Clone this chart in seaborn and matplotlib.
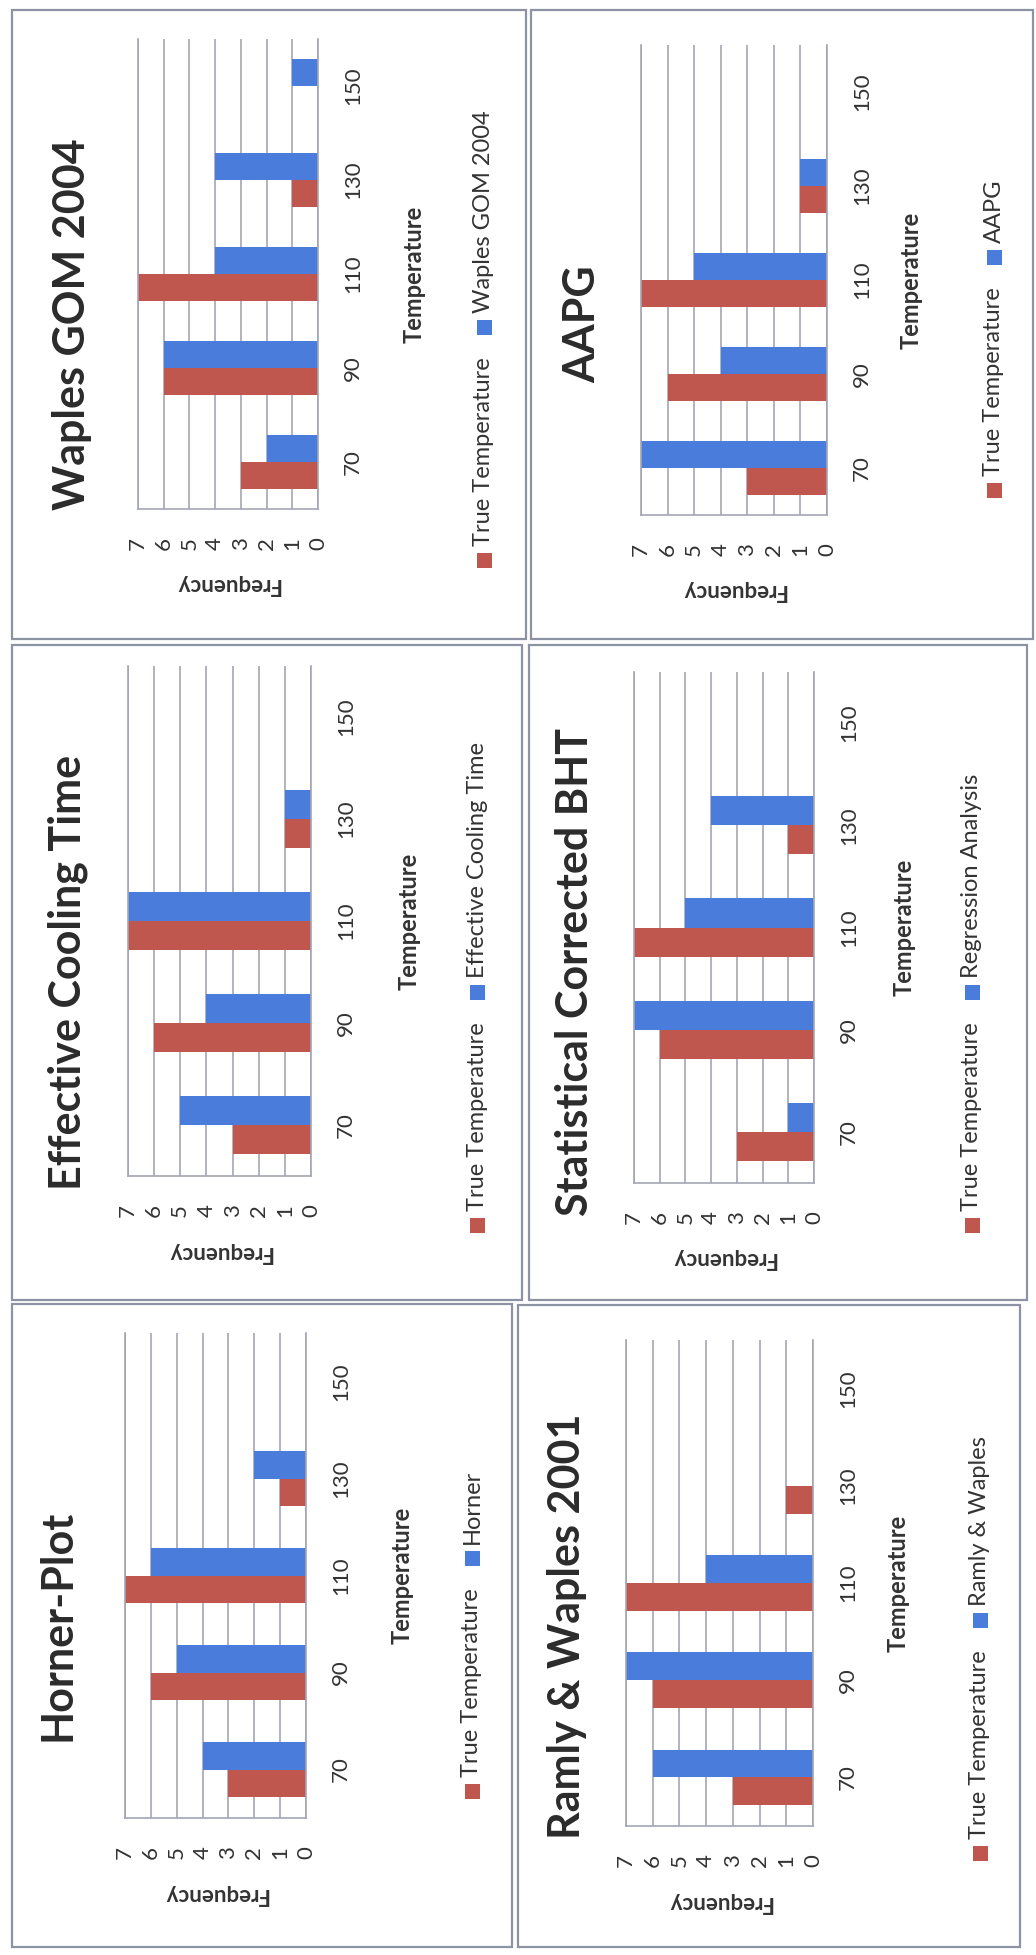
import matplotlib
matplotlib.use("Agg")
import matplotlib.pyplot as plt
from matplotlib.patches import Rectangle
import pandas as pd
import seaborn as sns

# Page of six histograms, scanned sideways (rotated 90 deg counter-clockwise)
W, H = 1036, 1955

temperatures = [70, 90, 110, 130, 150]
freq_ticks = [0, 1, 2, 3, 4, 5, 6, 7]
true_temperature = [3, 6, 7, 1, 0]
waples_gom = [2, 6, 4, 4, 1]
effective_cooling = [5, 4, 7, 1, 0]
horner = [4, 5, 6, 2, 0]
aapg = [7, 4, 5, 1, 0]
regression = [1, 7, 5, 4, 0]
ramly_waples = [6, 7, 4, 0, 0]

titles = ["Waples GOM 2004", "Effective Cooling Time", "Horner-Plot",
          "AAPG", "Statistical Corrected BHT", "Ramly & Waples 2001"]
methods = ["Waples GOM 2004", "Effective Cooling Time", "Horner",
           "AAPG", "Regression Analysis", "Ramly & Waples"]
method_values = [waples_gom, effective_cooling, horner, aapg, regression, ramly_waples]

RED = "#C0574F"
BLUE = "#4A7DDB"
GRID = "#A3A5B3"
BORDER = "#8E93A3"
TEXT = "#333333"

# layout in pixels (x0, y0, x1, y1), y measured from the top
boxes = [(12, 10, 526, 639), (12, 645, 522, 1300), (12, 1304, 512, 1947),
         (531, 10, 1033, 639), (529, 645, 1027, 1300), (518, 1305, 1020, 1947)]
plots = [(138, 39, 318, 509), (128, 666, 311, 1176), (125, 1333, 306, 1818),
         (641, 45, 827, 515), (634, 672, 814, 1183), (626, 1340, 813, 1826)]
title_x = [72, 68, 58, 582, 575, 567]
legend_x = [484, 477, 472, 994, 972, 980]
legend_y = [560, 1225, 1791, 490, 1225, 1853]
temp_label_dx = [96, 98, 96, 84, 90, 85]

sns.set_style("white")
plt.rcParams["font.family"] = ["Lato", "DejaVu Sans"]
plt.rcParams["text.color"] = TEXT

fig = plt.figure(figsize=(W / 100, H / 100), dpi=100)
overlay = fig.add_axes([0, 0, 1, 1], zorder=0)
overlay.set_xlim(0, W)
overlay.set_ylim(H, 0)
overlay.axis("off")
renderer = fig.canvas.get_renderer()

for i in range(6):
    bx0, by0, bx1, by1 = boxes[i]
    overlay.add_patch(Rectangle((bx0, by0), bx1 - bx0, by1 - by0, fill=False,
                                edgecolor=BORDER, lw=1.6))
    overlay.text(title_x[i], (by0 + by1) / 2, titles[i], rotation=90, ha="center",
                 va="center", fontsize=31, fontweight="bold", color="#2b2b2b")

    px0, py0, px1, py1 = plots[i]
    w, h = px1 - px0, py1 - py0
    ax = fig.add_axes([px0 / W, 1 - py1 / H, w / W, h / H], zorder=1)
    ax.set_facecolor("none")

    df = pd.DataFrame({
        "Temperature": [str(t) for t in temperatures] * 2,
        "Frequency": true_temperature + method_values[i],
        "Series": ["True Temperature"] * 5 + [methods[i]] * 5,
    })
    sns.barplot(data=df, x="Frequency", y="Temperature", hue="Series",
                order=[str(t) for t in temperatures],
                hue_order=["True Temperature", methods[i]],
                palette=[RED, BLUE], orient="h", width=0.57, gap=0,
                saturation=1, linewidth=0, errorbar=None, legend=False, ax=ax)

    ax.set_axisbelow(True)
    ax.set_xlim(7, 0)
    ax.set_ylim(-0.5, 4.5)
    ax.set_xticks(freq_ticks)
    ax.set_xticklabels([str(v) for v in freq_ticks], rotation=90, fontsize=16, color=TEXT)
    ax.yaxis.tick_right()
    ax.set_yticks(range(len(temperatures)))
    ax.set_yticklabels([str(t) for t in temperatures], rotation=90, va="center",
                       fontsize=16, color=TEXT)
    ax.tick_params(axis="x", length=0, pad=20)
    ax.tick_params(axis="y", length=0, pad=18)
    ax.grid(axis="x", color=GRID, lw=1.2)
    ax.grid(axis="y", visible=False)
    ax.spines["top"].set_visible(False)
    for s in ["left", "right", "bottom"]:
        ax.spines[s].set_color(GRID)
        ax.spines[s].set_linewidth(1.2)

    ax.set_xlabel("Frequency", rotation=180, fontsize=16, fontweight="bold", color=TEXT)
    ax.xaxis.set_label_coords(0.5, -76 / h)
    ax.xaxis.label.set_va("center")
    ax.yaxis.set_label_position("right")
    ax.set_ylabel("Temperature", rotation=90, fontsize=17, fontweight="bold", color=TEXT)
    ax.yaxis.set_label_coords(1 + temp_label_dx[i] / w, 0.5)
    ax.yaxis.label.set_va("center")
    ax.yaxis.label.set_ha("center")

    # legend, drawn by hand because it reads sideways
    y = legend_y[i]
    for label, color in zip(["True Temperature", methods[i]], [RED, BLUE]):
        overlay.add_patch(Rectangle((legend_x[i] - 7.5, y - 7.5), 15, 15,
                                    color=color, lw=0))
        t = overlay.text(legend_x[i], y - 14, label, rotation=90, ha="center",
                         va="bottom", fontsize=17, color=TEXT)
        bb = t.get_window_extent(renderer)
        y = H - bb.y1 - 30

fig.savefig("out.png", dpi=100, facecolor="white")
